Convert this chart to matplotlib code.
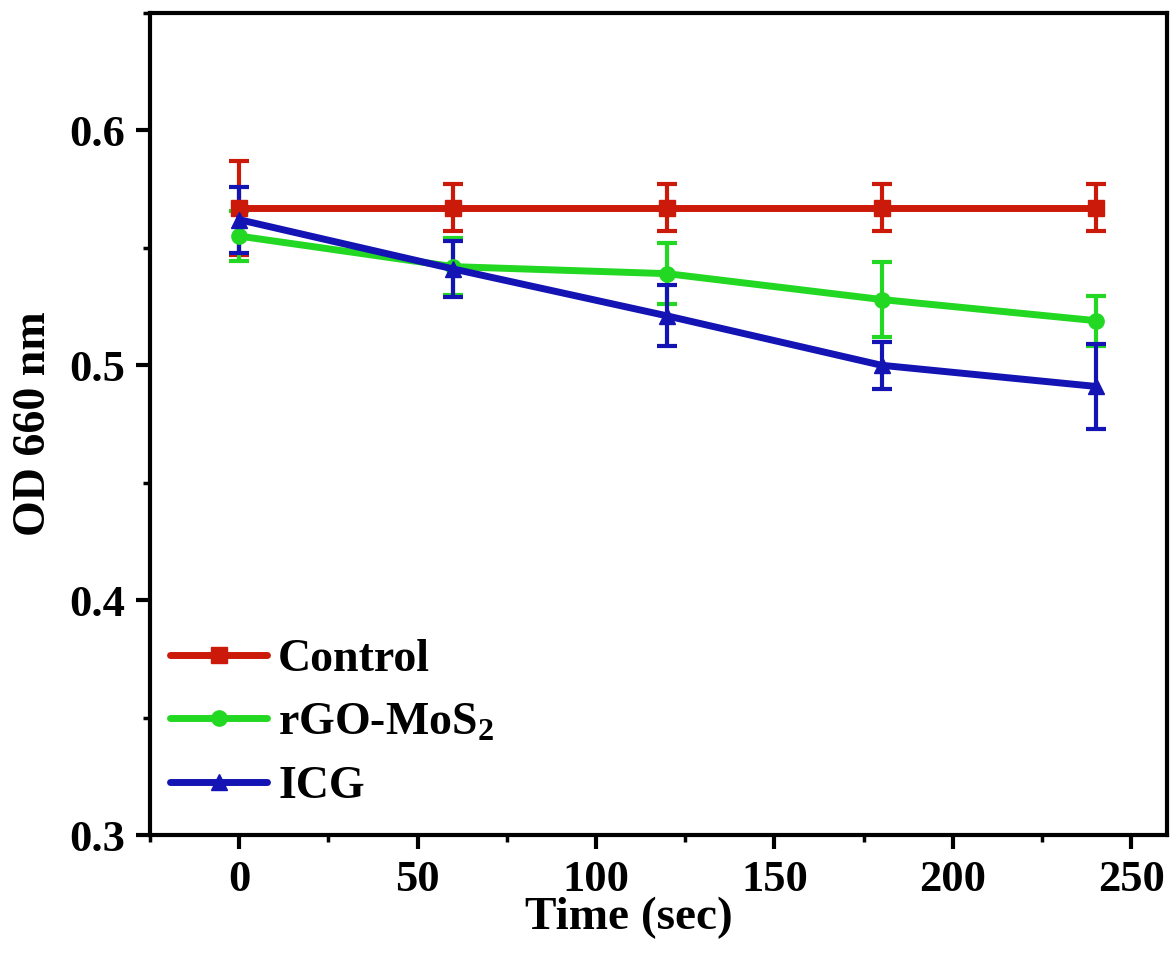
import matplotlib
matplotlib.use("Agg")
import matplotlib.pyplot as plt
from matplotlib.ticker import MultipleLocator
from matplotlib.lines import Line2D

plt.rcParams['font.family'] = ['Liberation Serif', 'DejaVu Serif']
plt.rcParams['font.weight'] = 'bold'
plt.rcParams['mathtext.default'] = 'regular'

time = [0, 60, 120, 180, 240]
control = [0.567, 0.567, 0.567, 0.567, 0.567]
control_err = [0.020, 0.010, 0.010, 0.010, 0.010]
rgo = [0.555, 0.542, 0.539, 0.528, 0.519]
rgo_err = [0.0105, 0.012, 0.013, 0.016, 0.0107]
icg = [0.562, 0.541, 0.521, 0.500, 0.491]
icg_err = [0.014, 0.012, 0.013, 0.010, 0.018]

labels = ['Control', r'rGO-MoS$_\mathregular{2}$', 'ICG']
colors = ['#CC1A0A', '#22D822', '#1414B4']
markers = ['s', 'o', '^']

fig = plt.figure(figsize=(11.76, 9.61), dpi=100)
ax = fig.add_axes([0.1276, 0.1311, 0.9923 - 0.1276, 0.9865 - 0.1311])

handles = []
for y, e, lab, c, m in zip([control, rgo, icg], [control_err, rgo_err, icg_err], labels, colors, markers):
    ax.errorbar(time, y, yerr=e, color=c, marker=m, markersize=11, linewidth=5,
                elinewidth=3, capsize=7, capthick=3)
    handles.append(Line2D([], [], color=c, marker=m, markersize=11, linewidth=5,
                          solid_capstyle='round', label=lab))

ax.set_xlim(-25, 260)
ax.set_ylim(0.3, 0.65)
ax.xaxis.set_major_locator(MultipleLocator(50))
ax.xaxis.set_minor_locator(MultipleLocator(25))
ax.yaxis.set_minor_locator(MultipleLocator(0.05))
ax.set_yticks([0.3, 0.4, 0.5, 0.6])
ax.set_yticklabels(['0.3', '0.4', '0.5', '0.6'])

for s in ax.spines.values():
    s.set_linewidth(3)
ax.tick_params(which='major', direction='out', length=10, width=3, labelsize=32, pad=8)
ax.tick_params(which='minor', direction='out', length=5, width=2.5)
ax.tick_params(top=False, right=False, which='both')

ax.set_xlabel('Time (sec)', fontsize=34, fontweight='bold')
ax.xaxis.set_label_coords(0.471, -0.075)
ax.set_ylabel('OD 660 nm', fontsize=33, fontweight='bold', labelpad=10)

leg = ax.legend(handles=handles, loc='upper left', bbox_to_anchor=(0.020, 0.239), frameon=False,
                fontsize=33, handlelength=2.1, handletextpad=0.25, borderpad=0,
                borderaxespad=0, labelspacing=0.47)

fig.savefig('out.png', dpi=100)
